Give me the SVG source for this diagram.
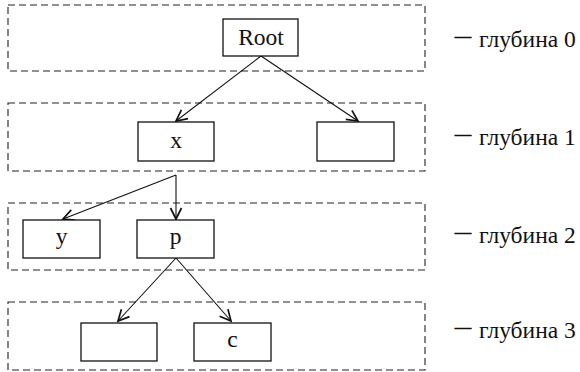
<svg xmlns="http://www.w3.org/2000/svg" width="580" height="372" viewBox="0 0 580 372">
  <style>
    .band { fill: none; stroke: #222; stroke-width: 1.1; stroke-dasharray: 7 4; }
    .box { fill: #fff; stroke: #111; stroke-width: 1.3; }
    .lbl { font-family: "Liberation Serif", "Times New Roman", serif; font-size: 23.5px; fill: #111; }
    .dash { font-family: "Liberation Serif", "Times New Roman", serif; font-size: 16px; fill: #111; stroke: #111; stroke-width: 0.9; }
    .edge { fill: none; stroke: #111; stroke-width: 1.1; }
    .arrow { fill: none; stroke: #111; stroke-width: 1.7; stroke-linejoin: miter; }
  </style>
  <defs>
    <marker id="open" markerUnits="userSpaceOnUse" markerWidth="16" markerHeight="16" refX="12" refY="7" orient="auto">
      <path class="arrow" d="M1,1.5 L12,7 L1,12.5"/>
    </marker>
  </defs>
  <rect width="580" height="372" fill="#fff"/>

  <!-- depth bands -->
  <g id="bands">
    <rect class="band" x="8" y="5" width="417" height="66"/>
    <rect class="band" x="8" y="103" width="417" height="68"/>
    <rect class="band" x="8" y="203" width="417" height="67"/>
    <rect class="band" x="8" y="302" width="417" height="68"/>
  </g>

  <!-- edges -->
  <g id="connectors">
    <line class="edge" x1="261" y1="56" x2="176" y2="121" marker-end="url(#open)"/>
    <line class="edge" x1="261" y1="56" x2="358" y2="121" marker-end="url(#open)"/>
    <line class="edge" x1="176" y1="175" x2="63" y2="219" marker-end="url(#open)"/>
    <line class="edge" x1="176" y1="175" x2="176" y2="219" marker-end="url(#open)"/>
    <line class="edge" x1="176" y1="258" x2="118" y2="321" marker-end="url(#open)"/>
    <line class="edge" x1="176" y1="258" x2="231" y2="321" marker-end="url(#open)"/>
  </g>

  <!-- nodes -->
  <g id="root">
    <rect class="box" x="223" y="19" width="75" height="37"/>
    <text class="lbl" x="261" y="45" text-anchor="middle">Root</text>
  </g>
  <g id="x">
    <rect class="box" x="138" y="122" width="76" height="39"/>
    <text class="lbl" x="176" y="148" text-anchor="middle">x</text>
  </g>
  <g id="empty1">
    <rect class="box" x="317" y="122" width="77" height="39"/>
  </g>
  <g id="y">
    <rect class="box" x="23" y="220" width="77" height="38"/>
    <text class="lbl" x="61.5" y="244" text-anchor="middle">y</text>
  </g>
  <g id="p">
    <rect class="box" x="137" y="220" width="77" height="38"/>
    <text class="lbl" x="175.5" y="244" text-anchor="middle">p</text>
  </g>
  <g id="empty3">
    <rect class="box" x="81" y="323" width="76" height="38"/>
  </g>
  <g id="c">
    <rect class="box" x="194" y="323" width="77" height="38"/>
    <text class="lbl" x="232.5" y="347" text-anchor="middle">c</text>
  </g>

  <!-- depth labels -->
  <g id="depth-labels">
    <text class="dash" x="455" y="41">—</text>
    <text class="lbl" x="479" y="47">глубина 0</text>
    <text class="dash" x="455" y="139">—</text>
    <text class="lbl" x="479" y="145">глубина 1</text>
    <text class="dash" x="455" y="237">—</text>
    <text class="lbl" x="479" y="243">глубина 2</text>
    <text class="dash" x="455" y="332">—</text>
    <text class="lbl" x="479" y="338">глубина 3</text>
  </g>
</svg>
